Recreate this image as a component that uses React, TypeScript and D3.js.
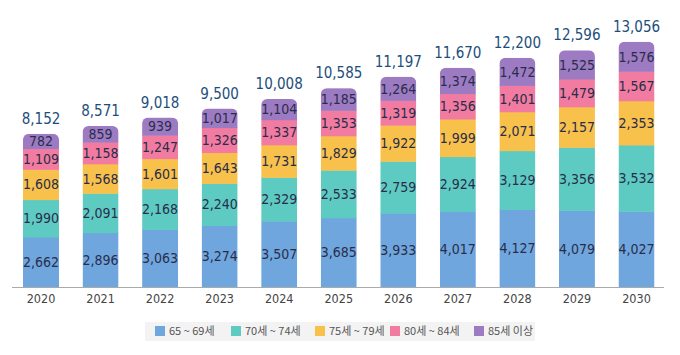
import React from "react";
import * as d3 from "d3";

const years = ["2020","2021","2022","2023","2024","2025","2026","2027","2028","2029","2030"];
const age65_69 = [2662, 2896, 3063, 3274, 3507, 3685, 3933, 4017, 4127, 4079, 4027];
const age70_74 = [1990, 2091, 2168, 2240, 2329, 2533, 2759, 2924, 3129, 3356, 3532];
const age75_79 = [1608, 1568, 1601, 1643, 1731, 1829, 1922, 1999, 2071, 2157, 2353];
const age80_84 = [1109, 1158, 1247, 1326, 1337, 1353, 1319, 1356, 1401, 1479, 1567];
const age85p = [782, 859, 939, 1017, 1104, 1185, 1264, 1374, 1472, 1525, 1576];
const totals = [8152, 8571, 9018, 9500, 10008, 10585, 11197, 11670, 12200, 12596, 13056];
const seriesNames = ["65 ~ 69세", "70세 ~ 74세", "75세 ~ 79세", "80세 ~ 84세", "85세 이상"];
const seriesColors = ["#6fa6de", "#5ecbc3", "#f8c14c", "#f27ca1", "#9d7bc3"];

const W = 680, H = 355;
const baseY = 287;
const barW = 36;
const numFont = "'DejaVu Sans Condensed', 'DejaVu Sans', sans-serif";

export default function App() {
  const seriesData = [age65_69, age70_74, age75_79, age80_84, age85p];
  const rows = years.map((y, i) => {
    const r: any = { year: y };
    seriesData.forEach((s, k) => (r["s" + k] = s[i]));
    return r;
  });
  const stack = d3.stack().keys(seriesData.map((_, k) => "s" + k))(rows);
  const x = d3.scalePoint().domain(years).range([41, 636.5]);
  const y = d3.scaleLinear().domain([0, 13056]).range([baseY, 41.7]);
  const fmt = d3.format(",");

  const legendX = [155, 231, 315, 390, 474];

  return (
    <svg width={W} height={H} style={{ position: "absolute", left: 0, top: 0, background: "#fff" }}>
      <defs>
        {years.map((yr, i) => {
          const top = y(totals[i]);
          return (
            <clipPath id={"clip" + i} key={yr}>
              <rect x={(x(yr) as number) - barW / 2} y={top} width={barW} height={baseY - top + 10} rx={6} ry={6} />
            </clipPath>
          );
        })}
      </defs>
      {years.map((yr, i) => (
        <g key={yr} clipPath={`url(#clip${i})`}>
          {stack.map((layer, k) => {
            const d = layer[i];
            return (
              <rect
                key={k}
                x={(x(yr) as number) - barW / 2}
                y={y(d[1])}
                width={barW}
                height={y(d[0]) - y(d[1]) + 0.5}
                fill={seriesColors[k]}
              />
            );
          })}
        </g>
      ))}
      {years.map((yr, i) =>
        stack.map((layer, k) => {
          const d = layer[i];
          return (
            <text
              key={yr + k}
              x={x(yr) as number}
              y={(y(d[0]) + y(d[1])) / 2 + 5}
              textAnchor="middle"
              fontFamily={numFont}
              fontSize={14}
              fill="#2a2d4a"
            >
              {fmt(seriesData[k][i])}
            </text>
          );
        })
      )}
      {years.map((yr, i) => (
        <text
          key={"t" + yr}
          x={x(yr) as number}
          y={y(totals[i]) - 10}
          textAnchor="middle"
          fontFamily={numFont}
          fontSize={15}
          fill="#1d4e7b"
        >
          {fmt(totals[i])}
        </text>
      ))}
      <line x1={12} x2={664} y1={baseY + 0.5} y2={baseY + 0.5} stroke="#aaa" strokeWidth={1} />
      {years.map((yr) => (
        <text
          key={"x" + yr}
          x={x(yr) as number}
          y={303}
          textAnchor="middle"
          fontFamily={numFont}
          fontSize={12.5}
          fill="#444"
        >
          {yr}
        </text>
      ))}
      <rect x={145} y={322} width={390} height={19} fill="#f3f3f3" />
      {seriesNames.map((n, k) => (
        <g key={n}>
          <rect x={legendX[k]} y={326} width={10} height={10} fill={seriesColors[k]} />
          <text
            x={legendX[k] + 14}
            y={335}
            fontFamily="'Noto Sans CJK KR', 'Noto Sans', sans-serif"
            fontSize={11}
            fill="#555"
          >
            {n}
          </text>
        </g>
      ))}
    </svg>
  );
}
